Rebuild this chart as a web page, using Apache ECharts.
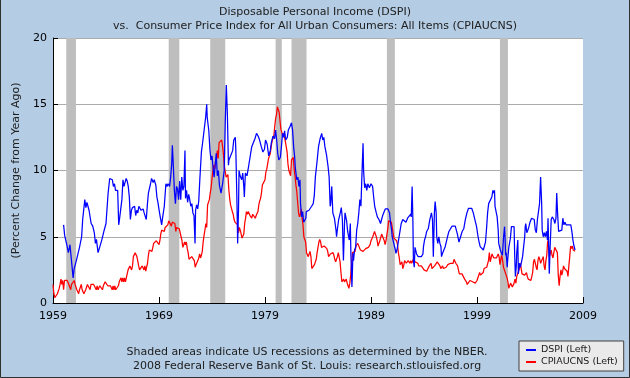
<!DOCTYPE html>
<html>
<head>
<meta charset="utf-8">
<script src="https://cdn.jsdelivr.net/npm/echarts@6/dist/echarts.min.js"></script>
<style>
html,body{margin:0;padding:0;background:#B4CCE4;}
#chart{width:630px;height:378px;}
</style>
</head>
<body>
<div id="chart"></div>
<script>
// ---------- DATA ----------
const titleText = 'Disposable Personal Income (DSPI)';
const subtitleText = 'vs.  Consumer Price Index for All Urban Consumers: All Items (CPIAUCNS)';
const yAxisTitle = '(Percent Change from Year Ago)';
const footerLines = ['Shaded areas indicate US recessions as determined by the NBER.',
                     '2008 Federal Reserve Bank of St. Louis: research.stlouisfed.org'];
const seriesNames = ['DSPI (Left)', 'CPIAUCNS (Left)'];
const xStartYear = 1959;
const xTickYears = [1959, 1969, 1979, 1989, 1999, 2009];
const yTicks = [0, 5, 10, 15, 20];

// NBER recessions: [peak month, trough month]
const recessions = [
  ['1960-04','1961-02'], ['1969-12','1970-11'], ['1973-11','1975-03'],
  ['1980-01','1980-07'], ['1981-07','1982-11'], ['1990-07','1991-03'],
  ['2001-03','2001-11']
];

// CPIAUCNS, % change from year ago, monthly from Jan 1959
const cpiMonthly = [
  1.4,0.7,0.4,0.4,0.4,0.7,0.7,1.1,1.4,1.8,1.4,1.7, // 1959
  1.0,1.7,1.7,1.7,1.7,1.7,1.4,1.4,1.0,1.4,1.4,1.4, // 1960
  1.7,1.4,1.4,1.0,1.0,0.7,1.0,1.0,1.4,1.0,1.0,0.7, // 1961
  0.7,1.0,1.0,1.4,1.4,1.4,1.0,1.4,1.4,1.4,1.4,1.3, // 1962
  1.3,1.0,1.3,1.0,1.0,1.3,1.3,1.3,1.0,1.3,1.3,1.6, // 1963
  1.6,1.6,1.3,1.3,1.3,1.3,1.3,1.0,1.3,1.0,1.3,1.0, // 1964
  1.0,1.0,1.3,1.6,1.6,1.9,1.6,1.9,1.6,1.9,1.6,1.9, // 1965
  1.9,2.5,2.5,2.8,2.8,2.5,2.8,3.5,3.5,3.8,3.8,3.5, // 1966
  3.5,2.8,2.5,2.5,2.5,2.8,2.8,2.5,2.8,2.4,2.7,3.0, // 1967
  3.6,4.0,4.0,3.9,3.9,4.2,4.5,4.4,4.4,4.7,4.7,4.7, // 1968
  4.4,4.7,5.2,5.5,5.5,5.5,5.4,5.7,5.7,5.7,5.9,6.2, // 1969
  6.2,6.1,5.8,6.1,6.1,6.0,6.0,5.4,5.7,5.7,5.6,5.6, // 1970
  5.3,5.0,4.7,4.2,4.4,4.6,4.4,4.6,4.1,3.8,3.3,3.3, // 1971
  3.3,3.5,3.5,3.5,3.2,2.7,2.9,2.9,3.2,3.4,3.7,3.4, // 1972
  3.6,3.9,4.6,5.1,5.5,6.0,5.7,7.4,7.4,7.8,8.3,8.7, // 1973
  9.4,10.0,10.4,10.1,10.7,10.9,11.5,10.9,12.1,12.0,12.2,12.3, // 1974
  11.8,11.2,10.3,10.2,9.5,9.4,9.7,8.6,7.9,7.4,7.4,6.9, // 1975
  6.7,6.3,6.1,6.1,6.2,5.9,5.3,5.7,5.5,5.5,4.9,4.9, // 1976
  5.2,6.0,6.4,6.9,6.7,6.9,6.8,6.6,6.6,6.4,6.7,6.7, // 1977
  6.8,6.4,6.6,6.5,6.9,7.4,7.7,7.9,8.3,8.9,8.9,9.0, // 1978
  9.3,9.9,10.1,10.5,10.9,10.9,11.3,11.8,12.2,12.1,12.6,13.3, // 1979
  13.9,14.2,14.8,14.7,14.4,14.4,13.1,12.9,12.6,12.8,12.6,12.5, // 1980
  11.8,11.4,10.5,10.0,9.8,9.6,10.8,10.8,11.0,10.1,9.6,8.9, // 1981
  8.4,7.6,6.8,6.5,6.7,7.1,6.4,5.9,5.0,5.1,4.6,3.8, // 1982
  3.7,3.5,3.6,3.9,3.5,2.6,2.5,2.6,2.9,2.9,3.3,3.8, // 1983
  4.2,4.6,4.8,4.6,4.2,4.2,4.2,4.3,4.3,4.3,4.1,3.9, // 1984
  3.5,3.5,3.7,3.7,3.8,3.8,3.6,3.3,3.1,3.2,3.5,3.8, // 1985
  3.9,3.1,2.3,1.6,1.5,1.8,1.6,1.6,1.8,1.5,1.3,1.1, // 1986
  1.5,2.1,3.0,3.8,3.9,3.7,3.9,4.3,4.4,4.5,4.5,4.4, // 1987
  4.0,3.9,3.9,3.9,3.9,4.0,4.1,4.0,4.2,4.2,4.2,4.4, // 1988
  4.7,4.8,5.0,5.1,5.4,5.2,5.0,4.7,4.3,4.5,4.7,4.6, // 1989
  5.2,5.3,5.2,4.7,4.4,4.7,4.8,5.6,6.2,6.3,6.3,6.1, // 1990
  5.7,5.3,4.9,4.9,5.0,4.7,4.4,3.8,3.4,2.9,3.0,3.1, // 1991
  2.6,2.8,3.2,3.2,3.0,3.1,3.2,3.1,3.0,3.2,3.0,2.9, // 1992
  3.3,3.2,3.1,3.2,3.2,3.0,2.8,2.8,2.7,2.8,2.7,2.7, // 1993
  2.5,2.5,2.5,2.4,2.3,2.5,2.8,2.9,3.0,2.6,2.7,2.7, // 1994
  2.8,2.9,2.9,3.1,3.2,3.0,2.8,2.6,2.5,2.8,2.6,2.5, // 1995
  2.7,2.7,2.8,2.9,2.9,2.8,3.0,2.9,3.0,3.0,3.3,3.3, // 1996
  3.0,3.0,2.8,2.5,2.2,2.3,2.2,2.2,2.2,2.1,1.8,1.7, // 1997
  1.6,1.4,1.4,1.4,1.7,1.7,1.7,1.6,1.5,1.5,1.5,1.6, // 1998
  1.7,1.6,1.7,2.3,2.1,2.0,2.1,2.3,2.6,2.6,2.6,2.7, // 1999
  2.7,3.2,3.8,3.1,3.2,3.7,3.7,3.4,3.5,3.4,3.4,3.4, // 2000
  3.7,3.5,2.9,3.3,3.6,3.2,2.7,2.7,2.6,2.1,1.9,1.6, // 2001
  1.1,1.1,1.5,1.6,1.2,1.1,1.5,1.8,1.5,2.0,2.2,2.4, // 2002
  2.6,3.0,3.0,2.2,2.1,2.1,2.1,2.2,2.3,2.0,1.8,1.9, // 2003
  1.9,1.7,1.7,2.3,3.1,3.3,3.0,2.7,2.5,3.2,3.5,3.3, // 2004
  3.0,3.0,3.1,3.5,2.8,2.5,3.2,3.6,4.7,4.3,3.5,3.4, // 2005
  4.0,3.6,3.4,3.5,4.2,4.3,4.1,3.8,2.1,1.3,2.0,2.5, // 2006
  2.1,2.4,2.8,2.6,2.7,2.7,2.4,2.0,2.8,3.5,4.3,4.1, // 2007
  4.3,4.0,4.0,3.9                                  // 2008
];

// DSPI, % change from year ago: [decimal year, value]
const dspiReadings = [
  [1960.0,5.9],[1960.1,5.1],[1960.3,4.4],[1960.45,3.8],[1960.6,4.4],[1960.75,4.3],[1960.9,1.9],
  [1961.0,2.6],[1961.2,3.2],[1961.5,4.2],[1961.7,5.0],[1961.8,6.3],[1962.0,7.8],[1962.1,7.2],
  [1962.2,7.6],[1962.4,7.0],[1962.6,6.0],[1962.75,5.8],[1962.9,5.3],[1963.0,4.5],[1963.1,4.8],
  [1963.25,3.8],[1963.4,4.2],[1963.6,4.75],[1963.8,5.4],[1964.0,6.0],[1964.2,8.3],[1964.35,9.4],
  [1964.5,9.5],[1964.6,9.3],[1964.7,8.8],[1964.8,9.0],[1964.9,8.5],[1965.1,8.5],[1965.2,5.9],
  [1965.3,6.5],[1965.4,6.4],[1965.5,7.8],[1965.6,9.3],[1965.7,8.8],[1965.9,9.4],[1966.0,9.2],
  [1966.1,8.8],[1966.2,8.0],[1966.3,6.3],[1966.4,7.0],[1966.5,7.2],[1966.7,7.3],[1966.8,6.6],
  [1966.9,7.0],[1967.0,6.8],[1967.1,7.3],[1967.3,7.0],[1967.5,7.1],[1967.6,6.8],[1967.8,6.3],
  [1967.9,7.4],[1968.0,8.3],[1968.2,9.0],[1968.3,9.4],[1968.45,9.1],[1968.55,9.3],[1968.7,8.9],
  [1968.8,8.0],[1968.9,7.6],[1969.05,6.8],[1969.25,5.9],[1969.35,6.5],[1969.5,7.3],[1969.65,9.0],
  [1969.75,8.8],[1969.85,9.0],[1970.0,8.8],[1970.1,9.5],[1970.2,10.5],[1970.26,11.9],[1970.35,10.4],
  [1970.45,8.5],[1970.55,7.5],[1970.65,8.8],[1970.75,8.6],[1970.85,7.8],[1970.95,9.2],[1971.05,7.8],
  [1971.15,9.5],[1971.25,8.5],[1971.35,8.8],[1971.45,11.5],[1971.5,7.9],[1971.6,8.5],[1971.7,7.6],
  [1971.8,8.2],[1971.9,7.8],[1972.0,7.3],[1972.1,7.5],[1972.2,6.8],[1972.3,6.6],[1972.4,4.5],
  [1972.45,7.0],[1972.55,7.4],[1972.65,7.1],[1972.75,7.7],[1972.85,9.3],[1973.0,11.4],[1973.1,12.0],
  [1973.25,13.0],[1973.4,14.0],[1973.5,15.0],[1973.55,14.0],[1973.7,13.0],[1973.8,11.6],[1973.9,10.8],
  [1974.0,11.1],[1974.1,10.2],[1974.2,9.5],[1974.3,10.4],[1974.4,11.3],[1974.5,9.6],[1974.6,10.0],
  [1974.7,8.9],[1974.85,8.3],[1975.0,9.0],[1975.15,10.0],[1975.25,13.6],[1975.35,16.45],[1975.45,14.3],
  [1975.55,10.4],[1975.6,10.8],[1975.7,11.0],[1975.8,11.0],[1975.95,11.5],[1976.05,12.3],[1976.2,12.5],
  [1976.25,11.5],[1976.35,7.8],[1976.42,4.5],[1976.5,7.0],[1976.55,10.0],[1976.65,9.6],[1976.8,9.3],
  [1976.9,9.8],[1977.0,8.8],[1977.05,8.0],[1977.15,9.8],[1977.3,9.6],[1977.45,10.3],[1977.6,10.3],
  [1977.75,11.8],[1977.9,12.1],[1978.05,12.4],[1978.2,12.8],[1978.35,12.6],[1978.45,12.4],[1978.55,12.3],
  [1978.65,11.8],[1978.8,11.4],[1978.95,11.6],[1979.05,12.3],[1979.2,12.0],[1979.35,11.1],[1979.5,11.5],
  [1979.6,12.1],[1979.75,12.6],[1979.9,12.4],[1980.0,13.05],[1980.1,12.3],[1980.2,11.3],[1980.3,10.8],
  [1980.45,11.0],[1980.55,11.8],[1980.65,12.8],[1980.75,12.5],[1980.85,13.0],[1980.95,12.3],[1981.1,12.5],
  [1981.2,13.05],[1981.35,13.3],[1981.5,13.6],[1981.6,13.05],[1981.7,11.8],[1981.8,11.0],[1981.85,10.3],
  [1981.95,9.6],[1982.0,9.3],[1982.1,9.5],[1982.2,8.8],[1982.3,9.3],[1982.35,7.5],[1982.45,6.5],
  [1982.55,6.9],[1982.65,6.1],[1982.75,6.0],[1982.85,6.4],[1982.9,6.9],[1983.0,6.8],[1983.15,7.0],
  [1983.25,6.9],[1983.4,7.3],[1983.55,7.5],[1983.65,8.1],[1983.75,9.5],[1983.9,10.6],[1984.05,11.8],
  [1984.2,12.4],[1984.35,12.8],[1984.45,12.3],[1984.55,12.5],[1984.65,11.8],[1984.8,11.2],[1984.95,10.3],
  [1985.05,9.5],[1985.15,7.3],[1985.2,7.5],[1985.3,8.8],[1985.4,6.8],[1985.55,6.4],[1985.7,5.5],
  [1985.75,5.0],[1985.85,5.7],[1985.95,6.3],[1986.1,6.8],[1986.2,7.2],[1986.3,6.3],[1986.4,3.2],
  [1986.5,6.0],[1986.55,6.8],[1986.7,6.2],[1986.8,5.4],[1986.95,4.75],[1987.05,6.0],[1987.1,3.75],
  [1987.2,1.2],[1987.3,3.75],[1987.35,3.2],[1987.45,4.0],[1987.55,4.2],[1987.65,5.5],[1987.75,6.0],
  [1987.85,6.8],[1987.95,7.8],[1988.05,7.3],[1988.15,9.8],[1988.25,12.05],[1988.3,10.0],[1988.4,8.7],
  [1988.5,9.0],[1988.6,8.5],[1988.7,9.0],[1988.85,8.7],[1989.0,9.0],[1989.15,8.8],[1989.25,8.0],
  [1989.35,7.3],[1989.5,6.8],[1989.6,6.5],[1989.75,6.3],[1989.9,6.0],[1990.0,6.3],[1990.1,6.6],
  [1990.25,6.9],[1990.35,7.1],[1990.5,7.2],[1990.6,7.1],[1990.75,6.8],[1990.85,6.0],[1990.95,5.5],
  [1991.0,5.0],[1991.15,4.5],[1991.3,4.0],[1991.35,3.75],[1991.45,4.0],[1991.55,4.5],[1991.65,5.0],
  [1991.75,5.5],[1991.85,6.0],[1992.0,6.3],[1992.15,6.3],[1992.3,6.1],[1992.45,6.4],[1992.6,6.5],
  [1992.75,6.7],[1992.8,6.5],[1992.88,8.8],[1992.95,6.3],[1993.0,3.2],[1993.08,2.7],[1993.15,4.2],
  [1993.25,4.2],[1993.3,3.7],[1993.45,3.5],[1993.6,3.4],[1993.75,3.5],[1993.9,3.7],[1993.95,4.25],
  [1994.05,4.75],[1994.15,5.0],[1994.25,5.4],[1994.4,5.6],[1994.55,6.3],[1994.7,6.8],[1994.8,6.3],
  [1994.88,3.5],[1994.98,6.8],[1995.05,7.65],[1995.15,6.8],[1995.2,5.0],[1995.3,4.5],[1995.4,5.0],
  [1995.5,4.5],[1995.6,4.25],[1995.65,3.5],[1995.75,3.75],[1995.85,3.75],[1996.0,4.25],[1996.1,4.6],
  [1996.25,5.1],[1996.35,5.4],[1996.5,5.6],[1996.65,5.8],[1996.8,5.8],[1996.95,5.8],[1997.05,5.8],
  [1997.15,5.2],[1997.3,4.6],[1997.45,5.0],[1997.6,5.4],[1997.75,5.6],[1997.9,6.3],[1998.05,6.8],
  [1998.2,7.15],[1998.35,7.25],[1998.5,7.15],[1998.65,6.8],[1998.8,6.3],[1998.95,5.8],[1999.1,5.0],
  [1999.2,4.6],[1999.3,4.25],[1999.4,4.1],[1999.6,4.0],[1999.7,4.0],[1999.8,4.6],[1999.9,5.6],
  [2000.0,6.8],[2000.1,7.5],[2000.25,7.6],[2000.4,8.0],[2000.5,8.5],[2000.55,8.3],[2000.6,8.4],
  [2000.65,8.5],[2000.7,7.3],[2000.8,7.3],[2000.9,6.5],[2001.0,5.5],[2001.05,4.5],[2001.2,4.0],
  [2001.3,3.8],[2001.4,3.6],[2001.5,4.9],[2001.6,5.76],[2001.65,4.9],[2001.7,3.6],[2001.75,3.8],
  [2001.85,2.7],[2001.9,3.3],[2002.0,4.2],[2002.15,4.9],[2002.25,5.76],[2002.4,5.9],[2002.5,5.76],
  [2002.55,3.8],[2002.62,2.0],[2002.7,2.7],[2002.75,3.8],[2002.85,4.75],[2002.9,2.2],[2003.0,3.0],
  [2003.1,2.7],[2003.2,2.7],[2003.3,3.5],[2003.4,4.25],[2003.5,5.0],[2003.55,5.76],[2003.6,6.0],
  [2003.7,5.3],[2003.8,5.5],[2003.9,5.76],[2004.0,6.1],[2004.15,6.4],[2004.3,6.4],[2004.4,6.3],
  [2004.5,5.5],[2004.6,5.3],[2004.7,6.3],[2004.8,6.3],[2004.9,7.5],[2005.0,9.5],[2005.1,7.5],
  [2005.15,5.5],[2005.25,5.0],[2005.35,5.3],[2005.45,5.0],[2005.55,5.4],[2005.65,4.75],[2005.7,6.4],
  [2005.75,4.75],[2005.82,2.2],[2005.9,4.25],[2006.0,6.3],[2006.1,6.5],[2006.25,6.3],[2006.35,6.0],
  [2006.45,6.4],[2006.52,8.3],[2006.6,6.8],[2006.7,5.4],[2006.85,5.4],[2007.0,5.5],[2007.1,6.4],
  [2007.2,5.9],[2007.3,6.1],[2007.4,5.9],[2007.5,5.8],[2007.6,5.9],[2007.75,6.0],[2007.85,5.9],
  [2007.95,5.4],[2008.05,4.75],[2008.15,4.3],[2008.25,4.0]
];

// ---------- CHART ----------
const FONT = 'DejaVu Sans';
function ymToX(s, endOfMonth) {
  const [y, m] = s.split('-').map(Number);
  return y + (endOfMonth ? m : m - 1) / 12 - xStartYear;
}
const cpiData = cpiMonthly.map((v, i) => [i / 12, v]);
const dspiData = dspiReadings.map(([t, v]) => [t - xStartYear, v]);
const recessionAreas = recessions.map(([a, b]) => [{ xAxis: ymToX(a, false) }, { xAxis: ymToX(b, true) }]);

const chart = echarts.init(document.getElementById('chart'), null, { renderer: 'canvas' });
chart.setOption({
  animation: false,
  backgroundColor: '#B4CCE4',
  textStyle: { fontFamily: FONT },
  title: {
    text: titleText, subtext: subtitleText, left: 'center', top: 2, itemGap: 3,
    textStyle: { fontFamily: FONT, fontSize: 11, fontWeight: 'normal', color: '#202020' },
    subtextStyle: { fontFamily: FONT, fontSize: 11, color: '#202020' }
  },
  grid: { left: 53, right: 47, top: 38, bottom: 75, show: true, backgroundColor: '#FFFFFF', borderWidth: 0 },
  legend: {
    data: seriesNames, orient: 'vertical', left: 519, top: 341,
    icon: 'rect', itemWidth: 10, itemHeight: 2, itemGap: 2,
    padding: [4, 6, 4, 7], backgroundColor: '#EAEAEA', borderColor: '#404040', borderWidth: 1,
    textStyle: { fontFamily: FONT, fontSize: 9.5, color: '#202020' }
  },
  xAxis: {
    type: 'value', min: 0, max: 50, interval: 10,
    axisLine: { show: true, lineStyle: { color: '#000', width: 1 } },
    axisTick: { show: true, inside: true, length: 6, lineStyle: { color: '#000' } },
    axisLabel: { color: '#000', fontSize: 11, fontFamily: FONT, margin: 8,
                 formatter: v => String(v + xStartYear) },
    splitLine: { show: false }
  },
  yAxis: {
    type: 'value', min: 0, max: 20, interval: 5,
    name: yAxisTitle, nameLocation: 'middle', nameGap: 28, nameRotate: 90,
    nameTextStyle: { fontFamily: FONT, fontSize: 11, color: '#202020' },
    axisLine: { show: true, lineStyle: { color: '#000', width: 1 } },
    axisTick: { show: true, inside: true, length: 5, lineStyle: { color: '#000' } },
    axisLabel: { color: '#000', fontSize: 11, fontFamily: FONT, margin: 6 },
    splitLine: { show: true, lineStyle: { color: '#ABABAB', width: 1 } }
  },
  series: [
    {
      name: 'recessions', type: 'line', data: [], z: 1, silent: true,
      markArea: { silent: true, itemStyle: { color: '#BEBEBE', opacity: 1 }, data: recessionAreas }
    },
    {
      name: seriesNames[0], type: 'line', data: dspiData, z: 3, showSymbol: false, symbol: 'none',
      lineStyle: { color: '#0000FF', width: 1.25 }, itemStyle: { color: '#0000FF' }
    },
    {
      name: seriesNames[1], type: 'line', data: cpiData, z: 2, showSymbol: false, symbol: 'none',
      lineStyle: { color: '#FF0000', width: 1.25 }, itemStyle: { color: '#FF0000' }
    }
  ],
  graphic: [
    { type: 'text', x: 307, y: 347, style: { text: footerLines[0], font: '11px "DejaVu Sans"', fill: '#202020', textAlign: 'center' } },
    { type: 'text', x: 307, y: 361, style: { text: footerLines[1], font: '11px "DejaVu Sans"', fill: '#202020', textAlign: 'center' } },
    { type: 'polyline', silent: true, shape: { points: [[0.5, 0], [0.5, 377.5], [629.5, 377.5], [629.5, 0]] },
      style: { stroke: '#303030', lineWidth: 1, fill: null } }
  ]
});
</script>
</body>
</html>
